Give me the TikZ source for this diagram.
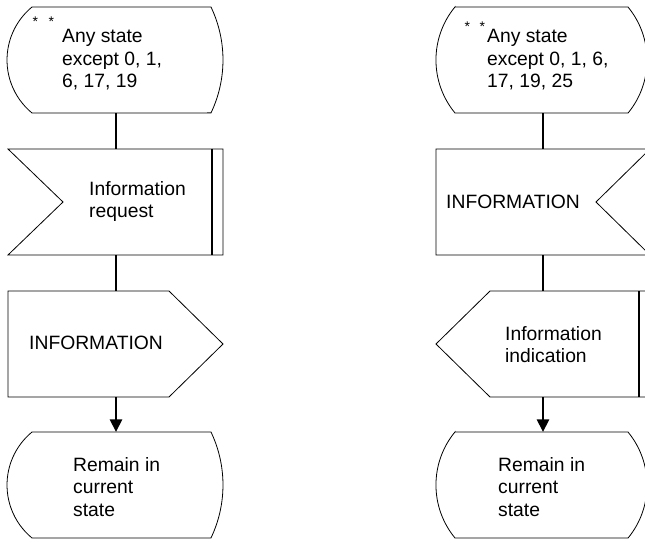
\documentclass[tikz,border=0pt]{standalone}
\usepackage{fontspec}
\setmainfont{Liberation Sans}
\usetikzlibrary{arrows.meta}
\begin{document}
\begin{tikzpicture}[x=1pt,y=1pt,
  shapebox/.style={draw=none,minimum width=215pt,minimum height=106pt,inner sep=0pt},
  outline/.style={draw=black,line width=0.8pt,line join=miter},
  heavy/.style={draw=black,line width=2pt},
  conn/.style={draw=black,line width=1.6pt},
  arr/.style={conn,-{Triangle[width=12.5pt,length=12.5pt]}},
  txt/.style={inner sep=0pt,anchor=base west,align=left,font=\fontsize{19.3}{22.5}\selectfont},
  stars/.style={inner sep=0pt,anchor=base west,font=\fontsize{14}{16}\selectfont}]
\useasboundingbox (0,0) rectangle (645,542);
\clip (0,0) rectangle (645,542);

% invisible node frames (for connectors)
\node[shapebox] (s1) at (116,482) {};
\node[shapebox] (i1) at (116,340) {};
\node[shapebox] (o1) at (116,198) {};
\node[shapebox] (e1) at (116,57) {};
\node[shapebox] (s2) at (543,482) {};
\node[shapebox] (i2) at (543,340) {};
\node[shapebox] (o2) at (543,198) {};
\node[shapebox] (e2) at (543,57) {};

% ---- left column outlines ----
\draw[outline] (32,535) -- (211,535) arc[start angle=25.5,end angle=-25.5,radius=123pt]
  -- (32,429) arc[start angle=230.5,end angle=129.5,radius=68.68pt] -- cycle;
\draw[outline] (8,393) -- (223,393) -- (223,287) -- (8,287) -- (63,340) -- cycle;
\draw[heavy] (212,393) -- (212,287);
\draw[outline] (8,251) -- (169,251) -- (223,198) -- (169,145) -- (8,145) -- cycle;
\draw[outline] (32,110) -- (211,110) arc[start angle=25.5,end angle=-25.5,radius=123pt]
  -- (32,4) arc[start angle=230.5,end angle=129.5,radius=68.68pt] -- cycle;

% ---- right column outlines ----
\draw[outline] (455,535) -- (628,535) arc[start angle=39.5,end angle=-39.5,radius=83.4pt]
  -- (455,429) arc[start angle=219.5,end angle=140.5,radius=83.4pt] -- cycle;
\draw[outline] (436,393) -- (650,393) -- (596,340) -- (650,287) -- (436,287) -- cycle;
\draw[outline] (650,251) -- (490,251) -- (436,198) -- (490,145) -- (650,145) -- cycle;
\draw[heavy] (639,251) -- (639,145);
\draw[outline] (455,110) -- (628,110) arc[start angle=39.5,end angle=-39.5,radius=83.4pt]
  -- (455,4) arc[start angle=219.5,end angle=140.5,radius=83.4pt] -- cycle;

% ---- connectors ----
\draw[conn] (s1) -- (i1);
\draw[conn] (i1) -- (o1);
\draw[arr] (o1) -- (e1);
\draw[conn] (s2) -- (i2);
\draw[conn] (i2) -- (o2);
\draw[arr] (o2) -- (e2);

% ---- texts (anchor = baseline of last line) ----
\node[stars] (st1) at (32.3,515) {*\hspace{10.6pt}*};
\node[txt] (t1) at (62,454) {Any state\\except 0, 1,\\6, 17, 19};
\node[txt] (t2) at (89,324.5) {Information\\request};
\node[txt] (t3) at (29,193) {INFORMATION};
\node[txt] (t4) at (73,26) {Remain in\\current\\state};

\node[stars] (st2) at (464.3,510) {*\hspace{9.6pt}*};
\node[txt] (t5) at (487,454) {Any state\\except 0, 1, 6,\\17, 19, 25};
\node[txt] (t6) at (446,334) {INFORMATION};
\node[txt] (t7) at (505,179.5) {Information\\indication};
\node[txt] (t8) at (498,26) {Remain in\\current\\state};
\end{tikzpicture}
\end{document}
